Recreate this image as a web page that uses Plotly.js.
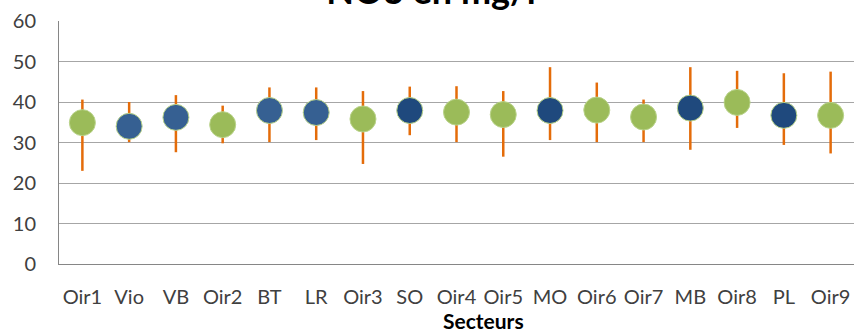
<!DOCTYPE html>
<html>
<head>
<meta charset="utf-8">
<script src="https://cdn.plot.ly/plotly-3.0.1.min.js"></script>
<style>html,body{margin:0;padding:0;background:#fff;}#chart{width:856px;height:331px;}</style>
</head>
<body>
<div id="chart"></div>
<script>
const categories = ["Oir1","Vio","VB","Oir2","BT","LR","Oir3","SO","Oir4","Oir5","MO","Oir6","Oir7","MB","Oir8","PL","Oir9"];
const meanValues = [34.9,34.0,36.2,34.4,37.9,37.4,35.8,37.9,37.5,36.9,37.9,38.0,36.3,38.5,39.9,36.7,36.7];
const maxValues  = [40.6,40.0,41.7,39.1,43.6,43.6,42.7,43.8,43.9,42.7,48.6,44.8,40.6,48.6,47.7,47.1,47.5];
const minValues  = [23.0,30.1,27.6,29.8,30.1,30.6,24.7,31.8,30.1,26.5,30.6,30.1,30.1,28.2,33.6,29.4,27.3];
const groups     = ["Oir","mid","mid","Oir","mid","mid","Oir","dark","Oir","Oir","dark","Oir","Oir","dark","Oir","dark","Oir"];
const groupColors = {Oir:"#9BBB59", mid:"#366092", dark:"#1F497D"};
const yTicks = [0,10,20,30,40,50,60];

const font = "Lato, 'Open Sans', sans-serif";
const trace = {
  type: "scatter",
  mode: "markers",
  x: categories,
  y: meanValues,
  marker: {
    size: 26,
    color: groups.map(g => groupColors[g]),
    line: {color: "#b9d38a", width: 1}
  },
  error_y: {
    type: "data",
    symmetric: false,
    array: maxValues.map((v,i) => v - meanValues[i]),
    arrayminus: meanValues.map((v,i) => v - minValues[i]),
    color: "#E46C0A",
    thickness: 2.5,
    width: 0
  },
  showlegend: false,
  hoverinfo: "x+y"
};

const layout = {
  width: 856, height: 331,
  margin: {l: 59, r: 2, t: 21, b: 67},
  paper_bgcolor: "#fff", plot_bgcolor: "#fff",
  font: {family: font, color: "#404040"},
  title: {
    text: "<b>NO3 en mg/l</b>",
    font: {family: font, size: 36, color: "#000"},
    x: 431/856, xanchor: "center",
    yref: "container", y: 1 - 4/331, yanchor: "bottom"
  },
  xaxis: {
    type: "category",
    range: [-0.5, 16.5],
    showgrid: false,
    showline: true, linecolor: "#868686", linewidth: 1,
    ticks: "", tickfont: {size: 20, color: "#404040"},
    ticklabelstandoff: 15,
    zeroline: false, fixedrange: true
  },
  yaxis: {
    range: [0, 60],
    tickvals: yTicks,
    showgrid: true, gridcolor: "#a6a6a6", gridwidth: 1,
    showline: true, linecolor: "#868686", linewidth: 1,
    zeroline: false,
    ticks: "", tickfont: {size: 20, color: "#404040"},
    ticklabelstandoff: 18,
    fixedrange: true
  },
  annotations: [{
    text: "<b>Secteurs</b>",
    xref: "paper", yref: "paper",
    x: (483-59)/795, y: -(321-264)/243.5,
    xanchor: "center", yanchor: "middle",
    showarrow: false,
    font: {family: font, size: 21, color: "#000"}
  }]
};

Plotly.newPlot("chart", [trace], layout, {displayModeBar: false, staticPlot: true});
</script>
</body>
</html>
